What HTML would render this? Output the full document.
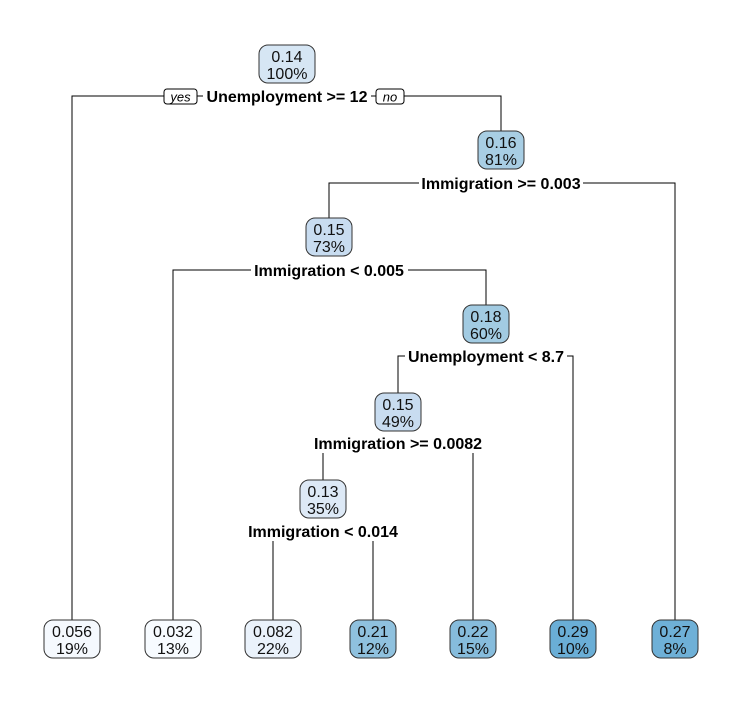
<!DOCTYPE html>
<html><head><meta charset="utf-8"><style>
html,body{margin:0;padding:0;background:#fff;}
svg{display:block;font-family:"Liberation Sans",Arial,sans-serif;}
.n{stroke:#333;stroke-width:1;}
.t{font-size:16px;text-anchor:middle;fill:#111;}
.s{font-size:16px;font-weight:bold;text-anchor:middle;fill:#000;}
.l{stroke:#000;stroke-width:1;fill:none;}
</style></head><body>
<svg width="742" height="702" viewBox="0 0 742 702">
<path class="l" d="M72,620V96H501V131"/>
<path class="l" d="M329,218V183H675V620"/>
<path class="l" d="M173,620V270H486V305"/>
<path class="l" d="M398,393V356H573V620"/>
<path class="l" d="M323,480V443H473V620"/>
<path class="l" d="M273,620V531H373V620"/>
<rect x="203" y="86" width="168" height="20" fill="#fff"/>
<text class="s" x="287" y="102">Unemployment &gt;= 12</text>
<rect x="164" y="89" width="33" height="15" rx="3" fill="#fff" stroke="#000"/>
<text x="180.5" y="101.5" font-size="13" font-style="italic" text-anchor="middle">yes</text>
<rect x="376" y="89" width="28" height="15" rx="3" fill="#fff" stroke="#000"/>
<text x="390" y="101.5" font-size="13" font-style="italic" text-anchor="middle">no</text>
<rect x="419" y="173" width="164" height="20" fill="#fff"/>
<text class="s" x="501" y="189">Immigration &gt;= 0.003</text>
<rect x="251" y="260" width="157" height="20" fill="#fff"/>
<text class="s" x="329" y="276">Immigration &lt; 0.005</text>
<rect x="405" y="346" width="162" height="20" fill="#fff"/>
<text class="s" x="486" y="362">Unemployment &lt; 8.7</text>
<rect x="311" y="433" width="176" height="20" fill="#fff"/>
<text class="s" x="398" y="449">Immigration &gt;= 0.0082</text>
<rect x="244" y="521" width="157" height="20" fill="#fff"/>
<text class="s" x="323" y="537">Immigration &lt; 0.014</text>
<g>
<rect class="n" x="259" y="45" width="56" height="38" rx="9" fill="#d6e6f4"/>
<text class="t" x="287" y="62">0.14</text><text class="t" x="287" y="79">100%</text>
<rect class="n" x="478" y="131" width="46" height="38" rx="9" fill="#a8cee4"/>
<text class="t" x="501" y="148">0.16</text><text class="t" x="501" y="165">81%</text>
<rect class="n" x="306" y="218" width="46" height="38" rx="9" fill="#c8dcf0"/>
<text class="t" x="329" y="235">0.15</text><text class="t" x="329" y="252">73%</text>
<rect class="n" x="463" y="305" width="46" height="38" rx="9" fill="#a2cbe2"/>
<text class="t" x="486" y="322">0.18</text><text class="t" x="486" y="339">60%</text>
<rect class="n" x="375" y="393" width="46" height="38" rx="9" fill="#c8dcf0"/>
<text class="t" x="398" y="410">0.15</text><text class="t" x="398" y="427">49%</text>
<rect class="n" x="300" y="480" width="46" height="38" rx="9" fill="#dde9f6"/>
<text class="t" x="323" y="497">0.13</text><text class="t" x="323" y="514">35%</text>
<rect class="n" x="44" y="620" width="56" height="38" rx="9" fill="#f5f9fe"/>
<text class="t" x="72" y="637">0.056</text><text class="t" x="72" y="654">19%</text>
<rect class="n" x="145" y="620" width="56" height="38" rx="9" fill="#f7fbff"/>
<text class="t" x="173" y="637">0.032</text><text class="t" x="173" y="654">13%</text>
<rect class="n" x="245" y="620" width="56" height="38" rx="9" fill="#eaf2fb"/>
<text class="t" x="273" y="637">0.082</text><text class="t" x="273" y="654">22%</text>
<rect class="n" x="350" y="620" width="46" height="38" rx="9" fill="#8fc1de"/>
<text class="t" x="373" y="637">0.21</text><text class="t" x="373" y="654">12%</text>
<rect class="n" x="450" y="620" width="46" height="38" rx="9" fill="#86bcdc"/>
<text class="t" x="473" y="637">0.22</text><text class="t" x="473" y="654">15%</text>
<rect class="n" x="550" y="620" width="46" height="38" rx="9" fill="#6aaed6"/>
<text class="t" x="573" y="637">0.29</text><text class="t" x="573" y="654">10%</text>
<rect class="n" x="652" y="620" width="46" height="38" rx="9" fill="#6eb0d7"/>
<text class="t" x="675" y="637">0.27</text><text class="t" x="675" y="654">8%</text>
</g>
</svg>
</body></html>
